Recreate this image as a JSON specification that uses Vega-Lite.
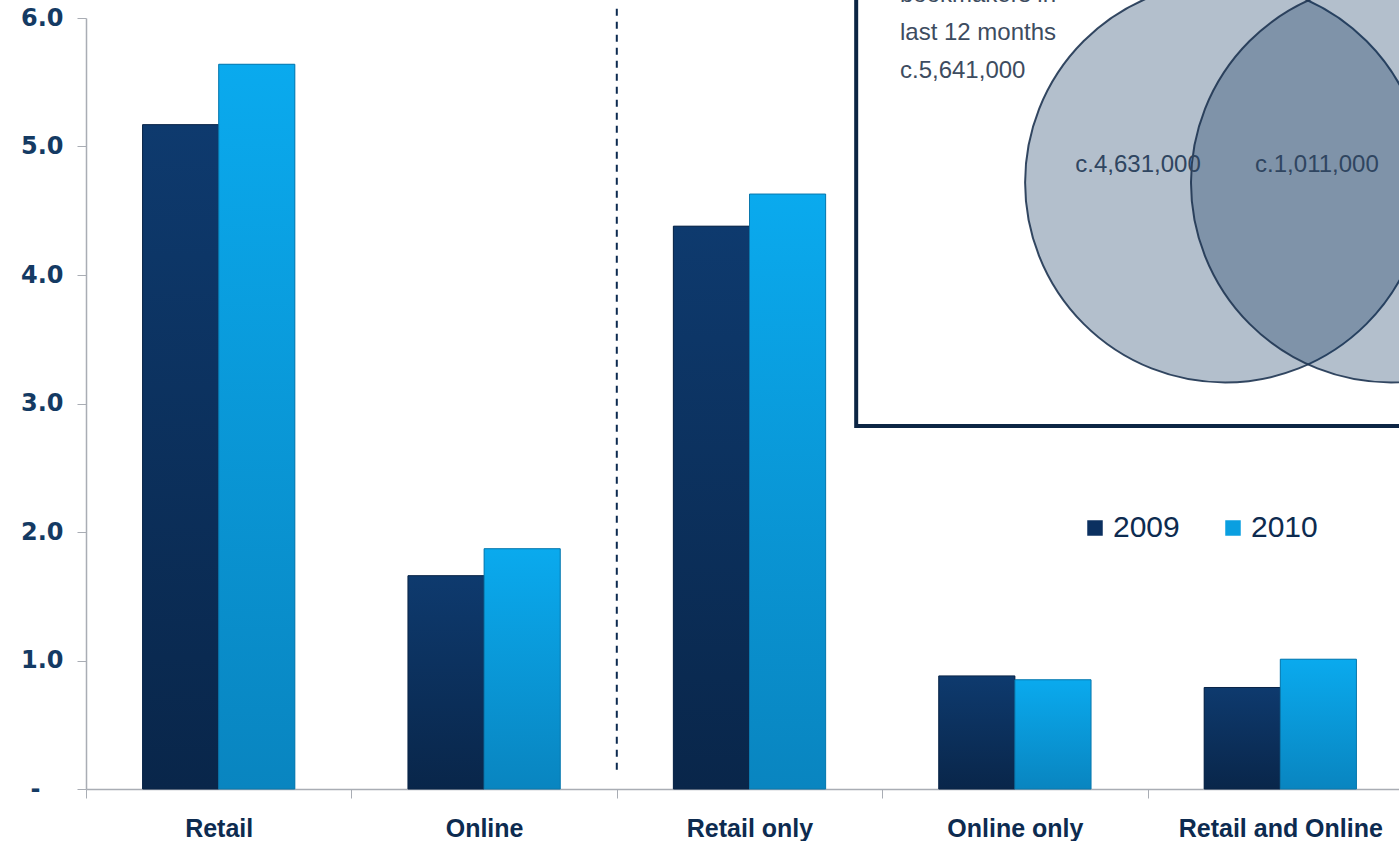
{
  "$schema": "https://vega.github.io/schema/vega-lite/v6.json",
  "width": 1327,
  "height": 771,
  "autosize": {"type": "none"},
  "padding": {"left": 86, "top": 18, "right": 0, "bottom": 52},
  "background": "white",
  "config": {
    "view": {"stroke": null},
    "font": "Liberation Sans"
  },
  "datasets": {
    "bars": [
      {"category": "Retail", "year": "2009", "value": 5.17},
      {"category": "Retail", "year": "2010", "value": 5.64},
      {"category": "Online", "year": "2009", "value": 1.66},
      {"category": "Online", "year": "2010", "value": 1.87},
      {"category": "Retail only", "year": "2009", "value": 4.38},
      {"category": "Retail only", "year": "2010", "value": 4.63},
      {"category": "Online only", "year": "2009", "value": 0.88},
      {"category": "Online only", "year": "2010", "value": 0.85},
      {"category": "Retail and Online", "year": "2009", "value": 0.79},
      {"category": "Retail and Online", "year": "2010", "value": 1.01}
    ]
  },
  "resolve": {"scale": {"x": "independent"}, "axis": {"x": "independent"}},
  "layer": [
    {
      "layer": [
        {
          "data": {"name": "bars"},
          "mark": {"type": "bar"},
          "encoding": {
            "x": {
              "field": "category", "type": "nominal",
              "sort": ["Retail", "Online", "Retail only", "Online only", "Retail and Online"],
              "scale": {"paddingInner": 0, "paddingOuter": 0},
              "axis": {
                "title": null, "labelAngle": 0, "tickBand": "extent",
                "domainColor": "#a9adb4", "tickColor": "#a9adb4", "tickSize": 9, "domainWidth": 1.5,
                "labelFont": "Liberation Sans", "labelFontWeight": "bold", "labelFontSize": 25,
                "labelColor": "#0d2b50", "labelPadding": 18, "labelLimit": 0
              }
            },
            "xOffset": {"field": "year", "type": "nominal", "scale": {"paddingInner": 0, "paddingOuter": 0.743}},
            "y": {
              "field": "value", "type": "quantitative",
              "scale": {"domain": [0, 6], "nice": false},
              "axis": {
                "title": null, "grid": false, "values": [0, 1, 2, 3, 4, 5, 6],
                "labelExpr": "datum.value == 0 ? '-' : format(datum.value, '.1f')",
                "domainColor": "#a9adb4", "tickColor": "#a9adb4", "tickSize": 9, "domainWidth": 1.5,
                "labelFont": "DejaVu Sans", "labelFontWeight": "bold", "labelFontSize": 24,
                "labelColor": "#143a63",
                "labelPadding": {"condition": {"test": "datum.value == 0", "value": 37}, "value": 14}
              }
            },
            "color": {
              "field": "year", "type": "nominal",
              "scale": {"domain": ["2009", "2010"], "range": ["#0b3060", "#0a9fe0"]},
              "legend": {
                "title": null, "orient": "none", "direction": "horizontal",
                "legendX": 994, "legendY": 495,
                "symbolType": "square", "symbolSize": 240, "symbolStrokeWidth": 0,
                "labelFontSize": 30, "labelColor": "#0d2b50", "labelFont": "Liberation Sans",
                "labelOffset": 3, "columnPadding": 38
              }
            }
          }
        },
        {
          "data": {"name": "bars"},
          "transform": [{"filter": "datum.year == '2009'"}],
          "mark": {
            "type": "bar",
            "color": {"gradient": "linear", "x1": 0, "y1": 0, "x2": 0, "y2": 1,
              "stops": [{"offset": 0, "color": "#0e3a6e"}, {"offset": 1, "color": "#09264a"}]},
            "stroke": "#0a2547", "strokeWidth": 1
          },
          "encoding": {
            "x": {"field": "category", "type": "nominal", "sort": ["Retail", "Online", "Retail only", "Online only", "Retail and Online"]},
            "xOffset": {"field": "year", "type": "nominal"},
            "y": {"field": "value", "type": "quantitative"}
          }
        },
        {
          "data": {"name": "bars"},
          "transform": [{"filter": "datum.year == '2010'"}],
          "mark": {
            "type": "bar",
            "color": {"gradient": "linear", "x1": 0, "y1": 0, "x2": 0, "y2": 1,
              "stops": [{"offset": 0, "color": "#0aaaee"}, {"offset": 1, "color": "#0985c0"}]},
            "stroke": "#0a78ad", "strokeWidth": 1
          },
          "encoding": {
            "x": {"field": "category", "type": "nominal", "sort": ["Retail", "Online", "Retail only", "Online only", "Retail and Online"]},
            "xOffset": {"field": "year", "type": "nominal"},
            "y": {"field": "value", "type": "quantitative"}
          }
        },
        {
          "data": {"values": [{"category": "Retail only"}]},
          "mark": {"type": "rule", "color": "#0d2b50", "strokeWidth": 2, "strokeDash": [7, 6]},
          "encoding": {
            "x": {"field": "category", "type": "nominal", "bandPosition": 0, "sort": ["Retail", "Online", "Retail only", "Online only", "Retail and Online"]},
            "y": {"datum": 0.15},
            "y2": {"datum": 6.1}
          }
        }
      ]
    },
    {
      "layer": [
        {
          "data": {"values": [{"panel": "inset"}]},
          "mark": {"type": "rect", "fill": "white", "stroke": "#0c2544", "strokeWidth": 4},
          "encoding": {
            "x": {"datum": 2.902, "type": "quantitative", "scale": {"domain": [0, 5], "nice": false, "zero": false}, "axis": null},
            "x2": {"datum": 5.6},
            "y": {"datum": 2.825, "type": "quantitative"},
            "y2": {"datum": 6.6}
          }
        },
        {
          "data": {"values": [{"set": "Retail", "pos": 4.292}, {"set": "Online", "pos": 4.917}]},
          "mark": {"type": "point", "shape": "circle", "filled": true, "size": 160000, "fill": "#133761", "fillOpacity": 0.32, "stroke": "#1f3552", "strokeWidth": 2, "strokeOpacity": 0.9},
          "encoding": {
            "x": {"field": "pos", "type": "quantitative"},
            "y": {"datum": 4.72, "type": "quantitative"}
          }
        },
        {
          "data": {"values": [{"label": "c.4,631,000"}]},
          "mark": {"type": "text", "fontSize": 24, "color": "#2f4560", "align": "center", "baseline": "middle", "font": "Liberation Sans"},
          "encoding": {
            "x": {"datum": 3.964, "type": "quantitative"},
            "y": {"datum": 4.856, "type": "quantitative"},
            "text": {"field": "label"}
          }
        },
        {
          "data": {"values": [{"label": "c.1,011,000"}]},
          "mark": {"type": "text", "fontSize": 24, "color": "#2f4560", "align": "center", "baseline": "middle", "font": "Liberation Sans"},
          "encoding": {
            "x": {"datum": 4.638, "type": "quantitative"},
            "y": {"datum": 4.856, "type": "quantitative"},
            "text": {"field": "label"}
          }
        },
        {
          "data": {"values": [{"label": ["bookmakers in", "last 12 months", "c.5,641,000"]}]},
          "mark": {"type": "text", "fontSize": 24, "color": "#3d4c60", "align": "left", "baseline": "middle", "lineHeight": 38, "font": "Liberation Sans"},
          "encoding": {
            "x": {"datum": 3.067, "type": "quantitative"},
            "y": {"datum": 6.18, "type": "quantitative"},
            "text": {"field": "label"}
          }
        }
      ]
    }
  ]
}
